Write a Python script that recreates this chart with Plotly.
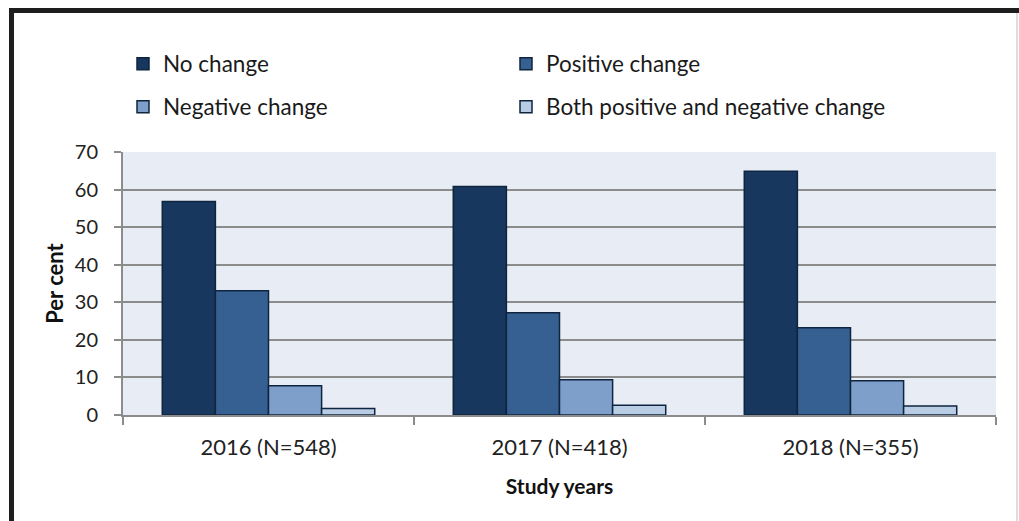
import plotly.graph_objects as go

categories = ["2016 (N=548)", "2017 (N=418)", "2018 (N=355)"]
series_names = ["No change", "Positive change", "Negative change", "Both positive and negative change"]
no_change = [56.8, 60.8, 64.9]
positive_change = [33.1, 27.2, 23.2]
negative_change = [7.8, 9.4, 9.1]
both_change = [1.7, 2.6, 2.4]
y_ticks = [0, 10, 20, 30, 40, 50, 60, 70]

colors = ["#17375E", "#366092", "#7F9FCB", "#B8CCE4"]
values = [no_change, positive_change, negative_change, both_change]
legends = ["legend", "legend", "legend2", "legend2"]

FONT = "Lato"
W, H = 1019, 521
ML, MR, MT, MB = 123, 23, 152, 106
PW, PH = W - ML - MR, H - MT - MB

def px2x(px):
    return (px - ML) / PW

def px2y(py):
    return (H - MB - py) / PH

fig = go.Figure()
for name, vals, col, lg in zip(series_names, values, colors, legends):
    fig.add_trace(go.Bar(
        x=categories, y=vals, name=name,
        marker=dict(color=col, line=dict(color="#0F243E", width=1.5)),
        legend=lg,
    ))

legend_common = dict(
    orientation="h", xanchor="left", yanchor="middle",
    font=dict(family=FONT, size=22.5, color="#1a1a1a"),
    entrywidth=338, entrywidthmode="pixels",
    itemwidth=30,
    bgcolor="rgba(0,0,0,0)", itemclick=False,
    traceorder="normal",
)

fig.update_layout(
    width=W, height=H, autosize=False,
    margin=dict(l=ML, r=MR, t=MT, b=MB, pad=0),
    paper_bgcolor="white", plot_bgcolor="#E8ECF4",
    barmode="group", bargap=0.27, bargroupgap=0,
    font=dict(family=FONT, color="#222222"),
    showlegend=True,
    legend=dict(x=px2x(123), y=px2y(64), **legend_common),
    legend2=dict(x=px2x(123), y=px2y(107), **legend_common),
    xaxis=dict(
        showline=True, linecolor="#8C8C8C", linewidth=2,
        ticks="outside", tickson="boundaries", ticklen=8, tickwidth=2, tickcolor="#8C8C8C",
        showgrid=False,
        tickfont=dict(family=FONT, size=22, color="#222222"),
        ticklabelstandoff=12,
        title=dict(text="<b>Study years</b>", font=dict(family=FONT, size=21, color="#111111"), standoff=20),
    ),
    yaxis=dict(
        range=[0, 70], tickvals=y_ticks,
        showline=True, linecolor="#8C8C8C", linewidth=2,
        ticks="outside", ticklen=7, tickwidth=2, tickcolor="#8C8C8C",
        showgrid=True, gridcolor="#8C8C8C", gridwidth=2,
        zeroline=False,
        tickfont=dict(family=FONT, size=20, color="#222222"),
        ticklabelstandoff=12,
        title=dict(text="<b>Per cent</b>", font=dict(family=FONT, size=22, color="#111111"), standoff=5),
    ),
    shapes=[
        dict(type="line", xref="paper", yref="paper",
             x0=px2x(9), x1=px2x(1019), y0=px2y(10.5), y1=px2y(10.5),
             line=dict(color="#1E1E1E", width=5)),
        dict(type="line", xref="paper", yref="paper",
             x0=px2x(11.5), x1=px2x(11.5), y0=px2y(8), y1=px2y(521),
             line=dict(color="#1E1E1E", width=5)),
        dict(type="line", xref="paper", yref="paper",
             x0=px2x(1017), x1=px2x(1017), y0=px2y(13), y1=px2y(521),
             line=dict(color="#BBBBBB", width=1)),
    ],
)

fig.write_html("out.html")
